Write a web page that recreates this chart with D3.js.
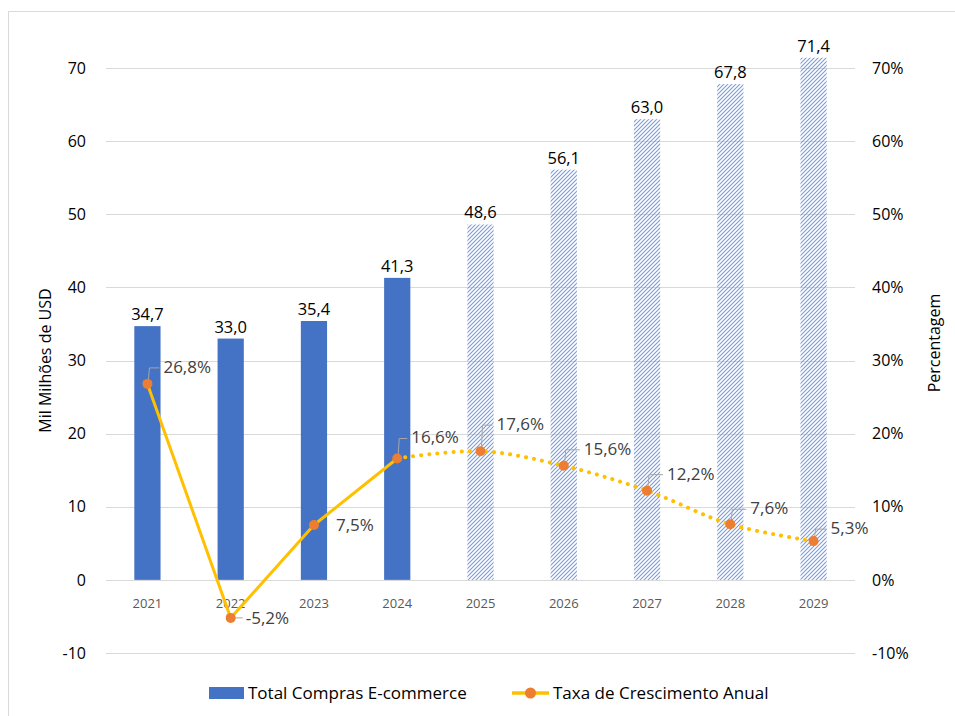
<!DOCTYPE html>
<html>
<head>
<meta charset="utf-8">
<script src="https://cdn.jsdelivr.net/npm/d3@7"></script>
<style>
  body { margin: 0; background: #fff; }
  svg { display: block; font-family: "Open Sans", "Noto Sans", sans-serif; }
</style>
</head>
<body>
<div id="chart"></div>
<script>
const years = ['2021', '2022', '2023', '2024', '2025', '2026', '2027', '2028', '2029'];
const totals = [34.7, 33.0, 35.4, 41.3, 48.6, 56.1, 63.0, 67.8, 71.4];
const growth = [26.8, -5.2, 7.5, 16.6, 17.6, 15.6, 12.2, 7.6, 5.3];
const forecastFrom = 4; // 2025 onwards are forecasts
const leftTicks = [-10, 0, 10, 20, 30, 40, 50, 60, 70];
const rightTicks = [-10, 0, 10, 20, 30, 40, 50, 60, 70];
// label offsets from each point: [dx, dy] of the text start
const labelOffsets = [[16, -17], [15, 0], [22, 0], [14, -21], [16, -27], [20, -17], [20, -17], [20, -16], [17, -13]];

const width = 955, height = 716;
const plot = { left: 106, right: 855, top: 68, bottom: 653 };
const fmt = (v) => v.toFixed(1).replace('.', ',');

const svg = d3.select('#chart').append('svg').attr('width', width).attr('height', height);

svg.append('rect')
  .attr('x', 8.5).attr('y', 11.5).attr('width', 960).attr('height', 720)
  .attr('fill', 'none').attr('stroke', '#d9d9d9');

const defs = svg.append('defs');
defs.append('pattern')
  .attr('id', 'hatch').attr('patternUnits', 'userSpaceOnUse')
  .attr('width', 4).attr('height', 4)
  .append('path')
  .attr('d', 'M-1,1 l2,-2 M0,4 l4,-4 M3,5 l2,-2')
  .attr('stroke', '#7c9bd8').attr('stroke-width', 1.1);

const x = d3.scaleBand().domain(years).range([plot.left, plot.right]).paddingInner(0.685).paddingOuter(0.34);
const y = d3.scaleLinear().domain([-10, 70]).range([plot.bottom, plot.top]);
const y2 = d3.scaleLinear().domain([-10, 70]).range([plot.bottom, plot.top]);

// gridlines
svg.append('g')
  .selectAll('line').data(leftTicks).join('line')
  .attr('x1', plot.left).attr('x2', plot.right)
  .attr('y1', (d) => Math.round(y(d)) + 0.5).attr('y2', (d) => Math.round(y(d)) + 0.5)
  .attr('stroke', '#d9d9d9').attr('stroke-width', 1);

// left axis
const leftAxis = svg.append('g')
  .attr('transform', `translate(${plot.left},0)`)
  .call(d3.axisLeft(y).tickValues(leftTicks).tickSize(0).tickPadding(20).tickFormat((d) => String(d)));
leftAxis.select('.domain').remove();
leftAxis.selectAll('text').attr('font-size', 16).attr('fill', '#000').attr('font-family', '"Open Sans", sans-serif');

// right axis
const rightAxis = svg.append('g')
  .attr('transform', `translate(${plot.right},0)`)
  .call(d3.axisRight(y2).tickValues(rightTicks).tickSize(0).tickPadding(17).tickFormat((d) => d + '%'));
rightAxis.select('.domain').remove();
rightAxis.selectAll('text').attr('font-size', 16).attr('fill', '#000').attr('font-family', '"Open Sans", sans-serif');

// x labels
svg.append('g').selectAll('text').data(years).join('text')
  .attr('x', (d) => x(d) + x.bandwidth() / 2).attr('y', y(0) + 28)
  .attr('text-anchor', 'middle').attr('font-size', 13).attr('fill', '#595959')
  .text((d) => d);

// bars
svg.append('g').selectAll('rect').data(totals).join('rect')
  .attr('x', (d, i) => x(years[i])).attr('width', x.bandwidth())
  .attr('y', (d) => y(d)).attr('height', (d) => y(0) - y(d))
  .attr('fill', (d, i) => (i >= forecastFrom ? 'url(#hatch)' : '#4472c4'));

svg.append('g').selectAll('text').data(totals).join('text')
  .attr('x', (d, i) => x(years[i]) + x.bandwidth() / 2).attr('y', (d) => y(d) - 6)
  .attr('text-anchor', 'middle').attr('font-size', 16.5).attr('fill', '#000')
  .text((d) => fmt(d));

// growth line
const pts = growth.map((g, i) => [x(years[i]) + x.bandwidth() / 2, y2(g)]);
svg.append('path')
  .attr('d', d3.line()(pts.slice(0, forecastFrom)))
  .attr('fill', 'none').attr('stroke', '#ffc000').attr('stroke-width', 3).attr('stroke-linejoin', 'round');
svg.append('path')
  .attr('d', d3.line().curve(d3.curveCatmullRom.alpha(0.5))(pts.slice(forecastFrom - 1)))
  .attr('fill', 'none').attr('stroke', '#ffc000').attr('stroke-width', 4)
  .attr('stroke-linecap', 'round').attr('stroke-dasharray', '0.1 8');

// leader lines
const leaders = svg.append('g');
pts.forEach(([px, py], i) => {
  const [dx, dy] = labelOffsets[i];
  if (dy < -10) {
    leaders.append('path')
      .attr('d', `M${px + 1},${py - 4} L${px + 2},${py + dy + 1} L${px + dx - 4},${py + dy + 1}`)
      .attr('fill', 'none').attr('stroke', '#a6a6a6').attr('stroke-width', 1);
  } else if (i === 1) {
    leaders.append('path')
      .attr('d', `M${px + 4},${py} L${px + dx - 3},${py}`)
      .attr('fill', 'none').attr('stroke', '#a6a6a6').attr('stroke-width', 1);
  }
});

svg.append('g').selectAll('circle').data(pts).join('circle')
  .attr('cx', (d) => d[0]).attr('cy', (d) => d[1]).attr('r', 5)
  .attr('fill', '#ed7d31');

svg.append('g').selectAll('text').data(growth).join('text')
  .attr('x', (d, i) => pts[i][0] + labelOffsets[i][0])
  .attr('y', (d, i) => pts[i][1] + labelOffsets[i][1])
  .attr('dy', '0.35em').attr('font-size', 17).attr('fill', '#404040')
  .text((d) => fmt(d) + '%');

// axis titles
svg.append('text')
  .attr('transform', `translate(51,${(y(70) + y(-10)) / 2}) rotate(-90)`)
  .attr('text-anchor', 'middle').attr('font-size', 16).attr('fill', '#000')
  .text('Mil Milhões de USD');
svg.append('text')
  .attr('transform', `translate(940,343) rotate(-90)`)
  .attr('text-anchor', 'middle').attr('font-size', 16).attr('fill', '#000')
  .text('Percentagem');

// legend
const legend = svg.append('g').attr('transform', 'translate(0,693)');
legend.append('rect').attr('x', 209).attr('y', -6).attr('width', 35).attr('height', 12).attr('fill', '#4472c4');
legend.append('text').attr('x', 248).attr('dy', '0.35em').attr('font-size', 17).attr('fill', '#000').text('Total Compras E-commerce');
legend.append('line').attr('x1', 512).attr('x2', 549).attr('stroke', '#ffc000').attr('stroke-width', 3.5);
legend.append('circle').attr('cx', 530.5).attr('r', 5.5).attr('fill', '#ed7d31');
legend.append('text').attr('x', 553).attr('dy', '0.35em').attr('font-size', 17).attr('fill', '#000').text('Taxa de Crescimento Anual');
</script>
</body>
</html>
